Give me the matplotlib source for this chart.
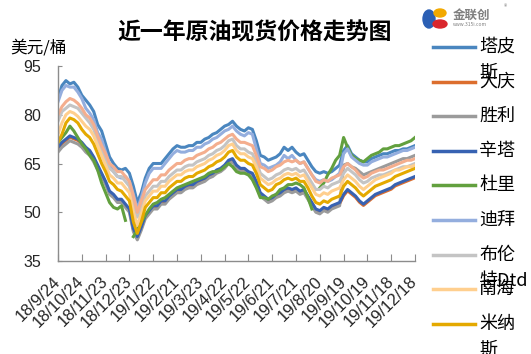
import numpy as np
import pandas as pd
import matplotlib.pyplot as plt
from matplotlib.lines import Line2D
from matplotlib.patches import Ellipse

plt.rcParams['font.family'] = ['Noto Sans CJK SC', 'DejaVu Sans']

# 日期：每5天一个点，2018/9/24 - 2019/12/18
start = '2018-09-24'
dates = pd.date_range(start, periods=91, freq='5D')
tick_dates = pd.date_range(start, periods=16, freq='30D')
tick_labels = ['18/9/24', '18/10/24', '18/11/23', '18/12/23', '19/1/22', '19/2/21',
               '19/3/23', '19/4/22', '19/5/22', '19/6/21', '19/7/21', '19/8/20',
               '19/9/19', '19/10/19', '19/11/18', '19/12/18']

names = ['塔皮斯', '大庆', '胜利', '辛塔', '杜里', '迪拜', '布伦特Dtd', '南海', '米纳斯', '阿曼']
colors = ['#4A86BF', '#DC6E2E', '#9B9B9B', '#3762B2', '#62A03E', '#94AEDE',
          '#C4C4C4', '#FFCF8E', '#E4A900', '#F4AE8E']

tapis = [85, 89, 90.5, 89.5, 90, 88.5, 86, 84.5, 83, 81,
         77, 75, 71, 67, 65, 63.5, 63, 63.5, 62, 58,
         53, 56, 60.5, 63.5, 65, 65, 65, 66.5, 68, 69.5,
         70.5, 70, 70, 70.5, 70.5, 71.5, 71.5, 72.5, 73, 74,
         74.5, 75.5, 76.5, 77, 78, 76.5, 75.5, 75, 76, 75.5,
         72, 67.5, 67, 66, 66.5, 67, 68, 70, 69, 70,
         68.5, 67.5, 68, 66, 64, 62.5, 62, 62.5, 62, 62.5,
         63.5, 64.5, 69, 70.5, 68, 67, 66, 65.5, 65.5, 66.5,
         67, 67.5, 68, 68, 68.5, 69, 69, 69.5, 69.5, 70, 70.5]
daqing = [69.6, 71.1, 72.1, 73.1, 72.6, 72.1, 71.1, 69.6, 68.6, 66.6,
          64.1, 61.6, 59.1, 56.1, 55.1, 53.6, 53.6, 52.1, 50.6, 44.6,
          42.1, 45.1, 48.6, 50.1, 51.6, 51.6, 53.1, 53.1, 54.6, 55.6,
          56.6, 56.6, 57.6, 58.1, 58.1, 59.1, 59.6, 60.1, 61.1, 61.6,
          62.6, 63.1, 64.1, 65.6, 66.1, 64.1, 63.1, 63.1, 62.1, 61.6,
          59.1, 55.6, 54.6, 53.6, 54.1, 55.1, 55.6, 56.6, 57.1, 56.6,
          57.1, 56.1, 56.6, 54.6, 52.6, 50.6, 50.1, 51.1, 50.6, 51.6,
          52.1, 52.6, 55.1, 56.6, 55.6, 54.6, 53.1, 52.1, 53.1, 54.1,
          55.1, 55.6, 56.1, 56.6, 57.1, 58.1, 58.6, 59.1, 59.6, 60.1, 60.6]
shengli = [68.5, 70, 71, 72, 71.5, 71, 70, 68.5, 67.5, 65.5,
           63, 61, 58.5, 55.5, 54.5, 53, 53, 51.5, 50, 44,
           41.5, 44.5, 48, 49.5, 51, 51, 52.5, 52.5, 54, 55,
           56, 56, 57, 57.5, 57.5, 58.5, 59, 59.5, 60.5, 61,
           62, 62.5, 63.5, 65, 65.5, 63.5, 62.5, 62.5, 61.5, 61,
           58.5, 55, 54, 53, 53.5, 54.5, 55, 56, 56.5, 56,
           56.5, 55.5, 56, 54, 52, 50, 49.5, 50.5, 50, 51,
           51.5, 52, 64.5, 65, 64, 63.5, 62.5, 61.5, 62, 62.5,
           63, 63.5, 64, 64.5, 65, 65.5, 66, 66.5, 66.5, 67, 67.5]
cinta = [70, 71.5, 72.5, 73.5, 73, 72.5, 71.5, 70, 69, 67,
         64.5, 62, 59.5, 56.5, 55.5, 54, 54, 52.5, 51, 45,
         42.5, 45.5, 49, 50.5, 52, 52, 53.5, 53.5, 55, 56,
         57, 57, 58, 58.5, 58.5, 59.5, 60, 60.5, 61.5, 62,
         63, 63.5, 64.5, 66, 66.5, 64.5, 63.5, 63.5, 62.5, 62,
         59.5, 56, 55, 54, 54.5, 55.5, 56, 57, 57.5, 57,
         57.5, 56.5, 57, 55, 53, 51, 50.5, 51.5, 51, 52,
         52.5, 53, 55.5, 57, 56, 55, 53.5, 52.5, 53.5, 54.5,
         55.5, 56, 56.5, 57, 57.5, 58.5, 59, 59.5, 60, 60.5, 61]
duri = [71.5, 73, 74.5, 76.5, 75, 73, 71, 69.5, 67.5, 66,
        63, 59, 56, 53, 51.5, 51, 52, 47.5, np.nan, 42.5,
        44.5, 47, 49, 51, 52.5, 53, 54, 54.5, 55.5, 56.5,
        57.5, 58, 58.5, 59, 59.5, 60, 60.5, 61, 62, 62.5,
        62.5, 63, 64, 65, 64, 62.5, 62, 62, 61.5, 60,
        57.5, 54.5, 54.5, 54, 55, 55.5, 57, 57.5, 58.5, 58.5,
        59, 58.5, 57.5, 54.5, 51, np.nan, 57.5, 59, 61.5, 63.5,
        66, 67.5, 73, 70, 67.5, 66.5, 66, 65.5, 66.5, 67.5,
        68, 68.5, 69.5, 69.5, 70, 70.5, 70.5, 71, 71.5, 72, 73]
dubai = [84, 87.5, 89, 88.5, 88.5, 87, 85, 82, 80.5, 78.5,
         74.5, 72.5, 68.5, 64.5, 62.5, 61, 60.5, 61, 59.5, 55.5,
         51, 54.5, 59, 62, 63.5, 63.5, 63.5, 65, 66.5, 68,
         69, 68.5, 68.5, 69, 69, 70, 70, 71, 71.5, 72.5,
         73, 74, 75, 75.5, 76.5, 75, 74, 73.5, 74.5, 74,
         69.5, 65, 64.5, 63.5, 64, 64.5, 65.5, 67.5, 66.5, 67.5,
         66, 65, 65.5, 63.5, 61.5, 60, 59.5, 60, 59.5, 60,
         61, 62, 68, 69.5, 67, 66, 65, 64.5, 64.5, 65.5,
         66, 66.5, 67, 67, 67.5, 68, 68.5, 69, 69, 69.5, 70]
brent = [78, 81, 82, 83, 82.5, 82, 80.5, 79, 77.5, 75.5,
         72, 69, 66.5, 63.5, 62.5, 61, 61, 59.5, 58, 53,
         48.5, 51.5, 55, 56.5, 58, 58, 59.5, 59.5, 61, 62,
         63, 63, 64, 64.5, 64.5, 65.5, 66, 66.5, 67.5, 68,
         69, 69.5, 70.5, 72, 72.5, 70.5, 69.5, 69.5, 68.5, 68,
         65.5, 62, 61, 60, 60.5, 61.5, 62, 63, 63.5, 63,
         63.5, 62.5, 63, 61, 59, 57, 57, 58, 57.5, 58.5,
         59, 59.5, 62, 63.5, 62.5, 61.5, 60, 59, 59.5, 60.5,
         61, 61.5, 61.5, 62, 62.5, 63, 63.5, 64, 64, 64.5, 65]
nanhai = [74, 77.5, 80, 81, 80.5, 79.5, 78, 76.5, 75.5, 73.5,
          70.5, 67.5, 64.5, 61.5, 60.5, 59, 59, 57.5, 56, 50,
          46, 49.5, 53.5, 55, 56.5, 56.5, 58, 58, 59.5, 60.5,
          61.5, 61.5, 62.5, 63, 63, 64, 64.5, 65, 66, 66.5,
          67.5, 68, 69, 70.5, 71, 69, 68, 68, 67, 66.5,
          64, 60.5, 59.5, 58.5, 59, 60, 60.5, 61.5, 62, 61.5,
          62, 61, 61.5, 59.5, 57.5, 55.5, 55, 56, 55.5, 56.5,
          57, 57.5, 60, 61.5, 60.5, 59.5, 58, 57, 58, 59,
          60, 60.5, 61, 61.5, 62, 63, 63, 63.5, 64, 64, 64.5]
minas = [71.5, 74, 77.5, 79, 78.5, 77.5, 75.5, 74, 73, 71,
         68, 65, 62.5, 59.5, 58.5, 57, 56.5, 55, 53.5, 47,
         43.5, 47, 51.5, 53, 54.5, 54.5, 56, 56, 57.5, 58.5,
         59.5, 59.5, 60.5, 61, 61, 62, 62.5, 63, 64, 64.5,
         65.5, 66, 67, 68.5, 69, 67, 66, 66, 65, 64.5,
         62, 58.5, 57.5, 56.5, 57, 58.5, 59, 60, 60.5, 60,
         60.5, 59.5, 59.5, 57.5, 55, 53, 52.5, 53.5, 53, 54,
         54.5, 55, 58, 59.5, 58.5, 57.5, 56, 55, 56, 57,
         58, 58.5, 59, 59.5, 60, 61, 61.5, 62, 62.5, 63, 63.5]
oman = [80, 82.5, 84, 85, 84.5, 83.5, 82, 80, 79, 77,
        73.5, 70.5, 68, 65, 64, 62.5, 62.5, 61, 59.5, 55,
        50, 53.5, 57, 58.5, 60, 60, 61.5, 61.5, 63, 64,
        65, 65, 66, 66.5, 66.5, 67.5, 68, 68.5, 69.5, 70,
        71, 71.5, 72.5, 73.5, 74, 72.5, 71.5, 71.5, 71, 70.5,
        67.5, 64, 63.5, 62.5, 63, 64, 64.5, 65.5, 66, 65.5,
        66, 65, 65.5, 63.5, 61.5, 59.5, 59, 60, 59.5, 60.5,
        61, 61.5, 64, 65, 64, 63, 61.5, 60.5, 61, 62,
        62.5, 63, 63, 63.5, 64, 64.5, 65, 65.5, 66, 66, 66.5]

series = [tapis, daqing, shengli, cinta, duri, dubai, brent, nanhai, minas, oman]

W, H = 531, 354
fig = plt.figure(figsize=(W / 100, H / 100), dpi=100)
ax = fig.add_axes([58 / W, 1 - 261 / H, 357 / W, 195 / H])

for name, vals, c in zip(names, series, colors):
    ax.plot(dates, vals, color=c, lw=2.2, label=name, solid_joinstyle='round')

ax.set_xlim(dates[0], dates[-1])
ax.set_ylim(35, 95)
ax.set_yticks([35, 50, 65, 80, 95])
ax.set_xticks(tick_dates)
ax.set_xticklabels(tick_labels, rotation=45, ha='right', va='center',
                   rotation_mode='anchor', fontsize=12, family='Liberation Sans',
                   color='#262626')
for lab in ax.get_yticklabels():
    lab.set_family('Liberation Sans')
    lab.set_fontsize(11.5)
    lab.set_color('#262626')
ax.tick_params(axis='x', direction='in', length=5, color='#8c8c8c', pad=13)
ax.tick_params(axis='y', direction='in', length=3, color='#8c8c8c', pad=12)
for s in ['top', 'right']:
    ax.spines[s].set_visible(False)
for s in ['left', 'bottom']:
    ax.spines[s].set_color('#8c8c8c')
    ax.spines[s].set_linewidth(1)

# 标题和单位
fig.text(255 / W, 1 - 33 / H, '近一年原油现货价格走势图', ha='center', va='center',
         fontsize=16.5, fontweight='bold', color='#000000')
fig.text(10 / W, 1 - 48 / H, '美元/桶', ha='left', va='center', fontsize=12, color='#000000')

# 图例（文字换行，和原图一样会互相压住；第10项在画面之外）
for i, (name, c) in enumerate(zip(names[:9], colors[:9])):
    y = 1 - (47 + i * 34.6) / H
    fig.add_artist(Line2D([433 / W, 475 / W], [y, y], color=c, lw=2.5,
                          transform=fig.transFigure))
    fig.text(479 / W, y, name[:2], ha='left', va='center', fontsize=13)
    if len(name) > 2:
        fig.text(479 / W, y - 26 / H, name[2:], ha='left', va='center', fontsize=13)

# 金联创 logo
lx, ly = 435 / W, 1 - 18 / H
fig.add_artist(Ellipse((lx - 6 / W, ly - 1 / H), 12 / W, 18 / H, color='#2B5FB4',
                       transform=fig.transFigure))
fig.add_artist(Ellipse((lx + 5 / W, ly + 5 / H), 12 / W, 8 / H, color='#F2A900',
                       transform=fig.transFigure))
fig.add_artist(Ellipse((lx + 5 / W, ly - 6 / H), 14 / W, 8 / H, color='#D9262C',
                       transform=fig.transFigure))
fig.text(453 / W, 1 - 15 / H, '金联创', ha='left', va='center', fontsize=9,
         fontweight='bold', color='#7f7f7f')
fig.text(453 / W, 1 - 25 / H, 'www.315i.com', ha='left', va='center', fontsize=3.5,
         color='#7f7f7f')
fig.text(505 / W, 1 - 7 / H, '®', ha='center', va='center', fontsize=5, color='#7f7f7f')

fig.savefig('out.png', dpi=100)
